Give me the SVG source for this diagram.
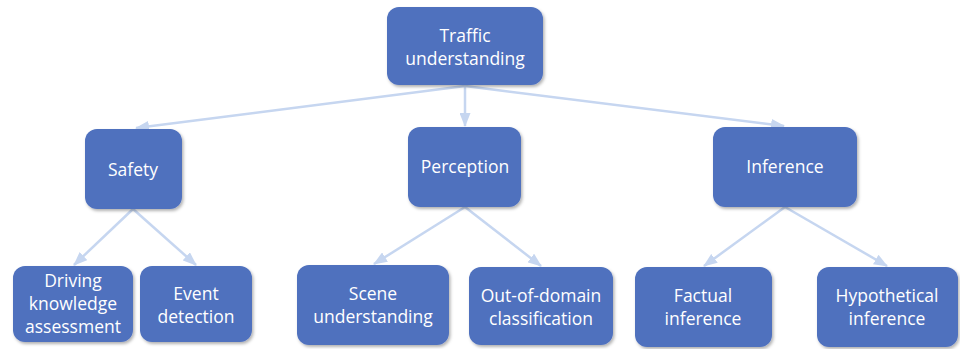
<svg xmlns="http://www.w3.org/2000/svg" width="960" height="349" viewBox="0 0 960 349">
<style>
.box{fill:#4f71be;filter:url(#sh)}
.t{font-family:"Open Sans","Liberation Sans",sans-serif;font-size:17.5px;fill:#ffffff;text-anchor:middle}
.c{stroke:#c6d6f0;stroke-width:2.5;fill:none;marker-end:url(#ah)}
</style>
<defs>
<filter id="sh" x="-10%" y="-10%" width="130%" height="130%">
<feDropShadow dx="1.5" dy="2" stdDeviation="1.5" flood-color="#000" flood-opacity="0.3"/>
</filter>
<marker id="ah" viewBox="0 0 14 11" refX="13" refY="5.5" markerWidth="14" markerHeight="11" markerUnits="userSpaceOnUse" orient="auto">
<path d="M0,0 L14,5.5 L0,11 Z" fill="#c6d6f0"/>
</marker>
</defs>
<g id="connectors">
<line class="c" x1="465" y1="86" x2="136" y2="128"/>
<line class="c" x1="465" y1="86" x2="465" y2="126"/>
<line class="c" x1="465" y1="86" x2="784" y2="126"/>
<line class="c" x1="133" y1="209" x2="74" y2="265"/>
<line class="c" x1="133" y1="209" x2="196" y2="265"/>
<line class="c" x1="465" y1="207" x2="374" y2="264"/>
<line class="c" x1="465" y1="207" x2="541" y2="266"/>
<line class="c" x1="785" y1="207" x2="704" y2="266"/>
<line class="c" x1="785" y1="207" x2="887" y2="266"/>
</g>
<g id="traffic">
<rect class="box" x="387" y="7" width="156" height="78" rx="12"/>
<text class="t" x="465" y="42">Traffic</text>
<text class="t" x="465" y="65">understanding</text>
</g>
<g id="safety">
<rect class="box" x="85" y="129" width="97" height="80" rx="12"/>
<text class="t" x="133" y="176">Safety</text>
</g>
<g id="perception">
<rect class="box" x="408" y="127" width="113" height="80" rx="12"/>
<text class="t" x="465" y="173">Perception</text>
</g>
<g id="inference">
<rect class="box" x="713" y="127" width="144" height="80" rx="12"/>
<text class="t" x="785" y="173">Inference</text>
</g>
<g id="driving">
<rect class="box" x="13" y="266" width="120" height="76" rx="12"/>
<text class="t" x="73" y="287">Driving</text>
<text class="t" x="73" y="310">knowledge</text>
<text class="t" x="73" y="333">assessment</text>
</g>
<g id="event">
<rect class="box" x="140" y="266" width="112" height="76" rx="12"/>
<text class="t" x="196" y="300">Event</text>
<text class="t" x="196" y="323">detection</text>
</g>
<g id="scene">
<rect class="box" x="297" y="265" width="152" height="80" rx="12"/>
<text class="t" x="373" y="300">Scene</text>
<text class="t" x="373" y="323">understanding</text>
</g>
<g id="ood">
<rect class="box" x="469" y="267" width="144" height="78" rx="12"/>
<text class="t" x="541" y="302">Out-of-domain</text>
<text class="t" x="541" y="325">classification</text>
</g>
<g id="factual">
<rect class="box" x="635" y="267" width="137" height="80" rx="12"/>
<text class="t" x="703" y="302">Factual</text>
<text class="t" x="703" y="325">inference</text>
</g>
<g id="hypothetical">
<rect class="box" x="817" y="267" width="141" height="80" rx="12"/>
<text class="t" x="887" y="302">Hypothetical</text>
<text class="t" x="887" y="325">inference</text>
</g>
</svg>
